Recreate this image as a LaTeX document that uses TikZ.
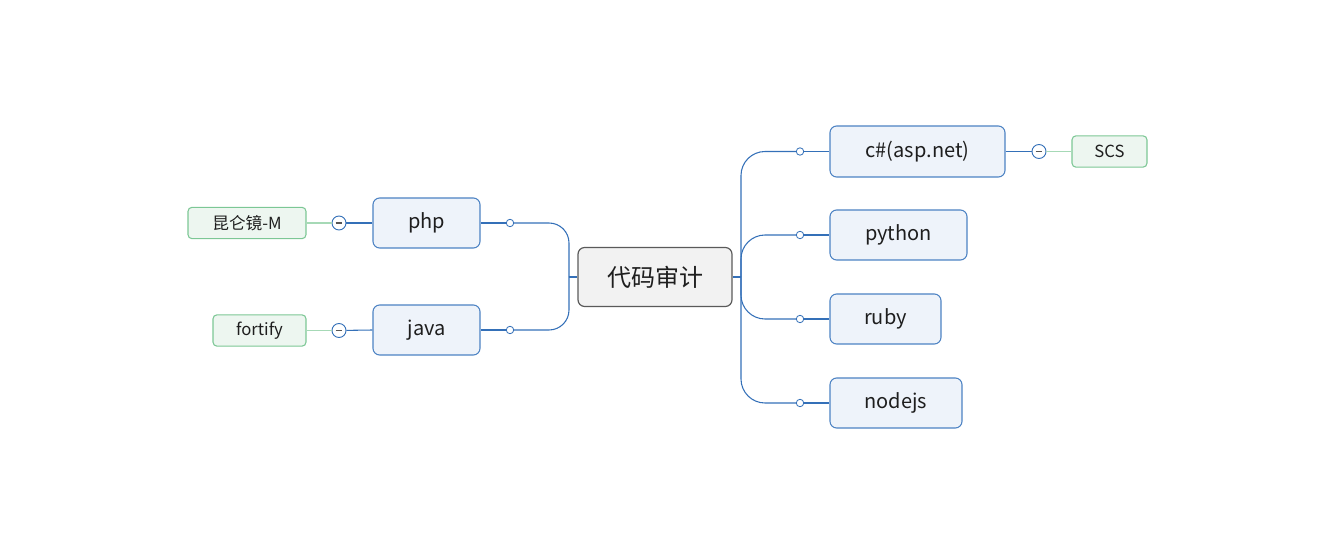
\documentclass[tikz,border=0pt]{standalone}
\usepackage{fontspec}
\setmainfont{Noto Sans CJK SC}
\definecolor{bluel}{HTML}{3470B8}
\definecolor{bluebd}{HTML}{4C82C3}
\definecolor{bluefill}{HTML}{EEF3FA}
\definecolor{greenbd}{HTML}{7CC795}
\definecolor{greenfill}{HTML}{EDF6F0}
\definecolor{greenl}{HTML}{A6D9B6}
\definecolor{centerfill}{HTML}{F2F2F2}
\definecolor{centerbd}{HTML}{5A5A5A}
\definecolor{txt}{HTML}{1E1E1E}
\definecolor{minusc}{HTML}{555555}
\tikzset{
  rootbox/.style={draw=centerbd, fill=centerfill, line width=0.9pt, rounded corners=5pt, inner sep=0pt,
    minimum width=115.5pt, minimum height=44.25pt, text=txt, font=\fontsize{18pt}{20pt}\selectfont},
  topicbox/.style={draw=bluebd, fill=bluefill, line width=0.8pt, rounded corners=5pt, inner sep=0pt,
    minimum height=37.5pt, text=txt, font=\fontsize{15pt}{17pt}\selectfont},
  leafbox/.style={draw=greenbd, fill=greenfill, line width=0.8pt, rounded corners=3pt, inner sep=0pt,
    minimum height=23.5pt, text=txt, font=\fontsize{12.5pt}{14pt}\selectfont},
  conn/.style={draw=bluel, line width=0.8pt},
  leafconn/.style={draw=greenl, line width=0.8pt},
  dot/.style={circle, draw=bluel, fill=white, line width=0.6pt, inner sep=0pt, minimum size=5.6pt},
  collapse/.style={circle, draw=bluel, fill=white, line width=0.7pt, inner sep=0pt, minimum size=10.5pt,
    path picture={\draw[minusc, line width=0.8pt]
      ([xshift=-2.6pt]path picture bounding box.center) -- ([xshift=2.6pt]path picture bounding box.center);}},
}
\begin{document}
\begin{tikzpicture}[x=0.75pt, y=-0.75pt]
\useasboundingbox (0,0) rectangle (1343,545);
% nodes
\node[rootbox] (root) at (655,277) {代码审计};
\node[topicbox, minimum width=80.25pt] (php) at (426.5,223) {php};
\node[topicbox, minimum width=80.25pt] (java) at (426.5,330) {java};
\node[topicbox, minimum width=131.25pt, minimum height=38.25pt] (cs) at (917.5,151.5) {c\#(asp.net)};
\node[topicbox, minimum width=102.75pt] (py) at (898.5,235) {python};
\node[topicbox, minimum width=83.25pt] (rb) at (885.5,319) {ruby};
\node[topicbox, minimum width=99pt] (nj) at (896,403) {nodejs};
\node[leafbox, minimum width=88.5pt] (kl) at (247,223) {昆仑镜-M};
\node[leafbox, minimum width=69.75pt] (ft) at (259.5,330.5) {fortify};
\node[leafbox, minimum width=56.25pt] (scs) at (1109.5,151.5) {SCS};
% junctions
\coordinate (lj) at (569,277);
\coordinate (rj) at (741,277);
% dots
\node[dot] (dphp) at (510,223) {};
\node[dot] (djava) at (510,330) {};
\node[dot] (dcs) at (800,151.5) {};
\node[dot] (dpy) at (800,235) {};
\node[dot] (drb) at (800,319) {};
\node[dot] (dnj) at (800,403) {};
% collapse markers
\node[collapse] (cphp) at (339,223) {};
\node[collapse] (cjava) at (339,330.5) {};
\node[collapse] (ccs) at (1039,151.5) {};
% connectors: root to trunks
\draw[conn] (root.west) -- (lj);
\draw[conn] (root.east) -- (rj);
% left branches
\draw[conn, rounded corners=15pt] (lj) |- (dphp);
\draw[conn, rounded corners=15pt] (lj) |- (djava);
\draw[conn] (dphp) -- (php.east);
\draw[conn] (djava) -- (java.east);
% right branches
\draw[conn, rounded corners=18pt] (rj) |- (dcs);
\draw[conn, rounded corners=18pt] (rj) |- (dpy);
\draw[conn, rounded corners=18pt] (rj) |- (drb);
\draw[conn, rounded corners=18pt] (rj) |- (dnj);
\draw[conn] (dcs) -- (cs.west);
\draw[conn] (dpy) -- (py.west);
\draw[conn] (drb) -- (rb.west);
\draw[conn] (dnj) -- (nj.west);
% leaves
\draw[conn] (php.west) -- (cphp);
\draw[leafconn] (cphp) -- (kl.east);
\draw[conn] (java.west) -- (cjava);
\draw[leafconn] (cjava) -- (ft.east);
\draw[conn] (cs.east) -- (ccs);
\draw[leafconn] (ccs) -- (scs.west);
\end{tikzpicture}
\end{document}
